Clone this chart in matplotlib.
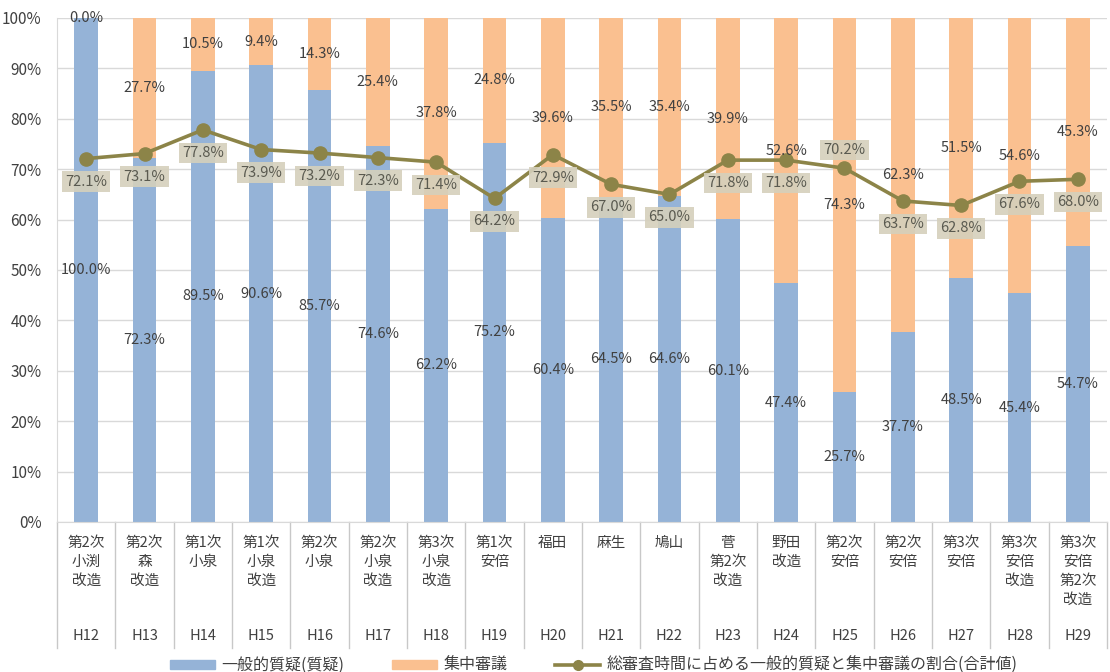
import numpy as np
import matplotlib.pyplot as plt
from matplotlib.patches import Patch
from matplotlib.lines import Line2D
import matplotlib.transforms as mtransforms

plt.rcParams['font.family'] = ['Noto Sans CJK JP', 'DejaVu Sans']

# ==========================
# DATA
# ==========================

cabinets = [
    "第2次\n小渕\n改造", "第2次\n森\n改造", "第1次\n小泉", "第1次\n小泉\n改造",
    "第2次\n小泉", "第2次\n小泉\n改造", "第3次\n小泉\n改造", "第1次\n安倍",
    "福田", "麻生", "鳩山", "菅\n第2次\n改造", "野田\n改造", "第2次\n安倍",
    "第2次\n安倍", "第3次\n安倍", "第3次\n安倍\n改造", "第3次\n安倍\n第2次\n改造",
]
years = ["H12", "H13", "H14", "H15", "H16", "H17", "H18", "H19", "H20",
         "H21", "H22", "H23", "H24", "H25", "H26", "H27", "H28", "H29"]

general = [100.0, 72.3, 89.5, 90.6, 85.7, 74.6, 62.2, 75.2, 60.4,
           64.5, 64.6, 60.1, 47.4, 25.7, 37.7, 48.5, 45.4, 54.7]
focused = [0.0, 27.7, 10.5, 9.4, 14.3, 25.4, 37.8, 24.8, 39.6,
           35.5, 35.4, 39.9, 52.6, 74.3, 62.3, 51.5, 54.6, 45.3]
total_share = [72.1, 73.1, 77.8, 73.9, 73.2, 72.3, 71.4, 64.2, 72.9,
               67.0, 65.0, 71.8, 71.8, 70.2, 63.7, 62.8, 67.6, 68.0]

legend_labels = ["一般的質疑(質疑)", "集中審議",
                 "総審査時間に占める一般的質疑と集中審議の割合(合計値)"]

# ==========================
# STYLE
# ==========================

BLUE = "#95B3D7"
ORANGE = "#FAC090"
OLIVE = "#8C8448"
GRID = "#D9D9D9"
TEXT = "#404040"

fig = plt.figure(figsize=(11.1, 6.72), dpi=100)
ax = fig.add_axes([57 / 1110, 150 / 672, 1050 / 1110, 504 / 672])

x = np.arange(len(years))
g = np.array(general) / 100
f = np.array(focused) / 100
t = np.array(total_share) / 100

ax.bar(x, g, width=0.41, color=BLUE, zorder=2)
ax.bar(x, f, width=0.41, bottom=g, color=ORANGE, zorder=2)
ax.plot(x, t, color=OLIVE, lw=2.6, marker="o", ms=9.5, zorder=4)

# bar segment labels
for i in range(len(x)):
    ax.text(x[i], g[i] / 2, f"{general[i]:.1f}%", ha="center", va="center",
            fontsize=10.5, color=TEXT, zorder=5)
    ax.text(x[i], g[i] + f[i] / 2, f"{focused[i]:.1f}%", ha="center",
            va="center", fontsize=10.5, color=TEXT, zorder=5)

# line labels in boxes (H25 sits above the point)
for i in range(len(x)):
    dy = 18 if years[i] == "H25" else -23
    ax.annotate(f"{total_share[i]:.1f}%", (x[i], t[i]), xytext=(0, dy),
                textcoords="offset pixels", ha="center", va="center",
                fontsize=10.5, color="#5A5A50", zorder=6,
                bbox=dict(boxstyle="square,pad=0.22", fc="#D5D0BC",
                          ec="none", alpha=0.9))

# ==========================
# AXES
# ==========================

ax.set_xlim(-0.5, len(x) - 0.5)
ax.set_ylim(0, 1)
ax.set_yticks(np.arange(0, 1.01, 0.1))
ax.set_yticklabels([f"{v}%" for v in range(0, 101, 10)], fontsize=11, color=TEXT)
ax.tick_params(axis="y", length=0, pad=11)
ax.set_xticks([])
ax.grid(axis="y", color=GRID, lw=1, zorder=0)
for s in ["top", "right"]:
    ax.spines[s].set_visible(False)
ax.spines["left"].set_color(GRID)
ax.spines["bottom"].set_color(GRID)

# two-level category labels with separators
trans = mtransforms.blended_transform_factory(ax.transData, ax.transAxes)
for b in np.arange(-0.5, len(x), 1.0):
    ax.plot([b, b], [0, -0.25], transform=trans, color="#C8C8C8", lw=1,
            clip_on=False, zorder=1)
for i in range(len(x)):
    ax.text(x[i], -0.028, cabinets[i], transform=trans, ha="center", va="top",
            fontsize=10.5, color=TEXT, linespacing=1.45)
    ax.text(x[i], -0.226, years[i], transform=trans, ha="center", va="center",
            fontsize=10.5, color=TEXT)

# ==========================
# LEGEND
# ==========================

handles = [
    Patch(color=BLUE),
    Patch(color=ORANGE),
    Line2D([0], [0], color=OLIVE, lw=2.6, marker="o", ms=7),
]
fig.legend(handles, legend_labels, loc="center", bbox_to_anchor=(0.535, 0.01),
           ncol=3, frameon=False, fontsize=11.5, handlelength=2.8,
           handleheight=0.5, columnspacing=3.0, handletextpad=0.4,
           labelcolor=TEXT)

fig.savefig("out.png", dpi=100)
